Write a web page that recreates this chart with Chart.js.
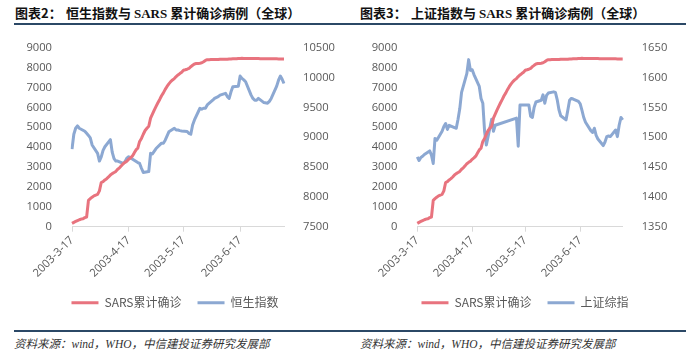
<!DOCTYPE html>
<html><head><meta charset="utf-8">
<script src="https://cdn.jsdelivr.net/npm/chart.js@4.4.1/dist/chart.umd.min.js"></script>
<style>
html,body{margin:0;padding:0;background:#fff;}
#wrap{position:relative;width:700px;height:359px;overflow:hidden;background:#fff;}
.t{position:absolute;top:5px;font-family:"Noto Sans CJK SC";font-weight:bold;font-size:13px;color:#111;white-space:nowrap;line-height:16px;}
.t .sa{font-family:"Liberation Serif";font-weight:bold;}
.rule{position:absolute;left:14px;width:672px;height:2px;background:#2b4866;}
.src{position:absolute;top:337px;font-style:italic;font-size:11.5px;color:#333;font-family:"Liberation Serif","Noto Sans CJK SC";white-space:nowrap;line-height:14px;}
canvas{position:absolute;top:0;}
</style></head>
<body><div id="wrap">
<div class="t" style="left:15px">图表2：</div>
<div class="t" style="left:66px">恒生指数与 <span class="sa">SARS</span> 累计确诊病例（全球）</div>
<div class="t" style="left:360px">图表3：</div>
<div class="t" style="left:411px">上证指数与 <span class="sa">SARS</span> 累计确诊病例（全球）</div>
<div class="rule" style="top:23px"></div>
<div class="rule" style="top:330px"></div>
<div class="src" style="left:14px">资料来源：wind，WHO，中信建投证券研究发展部</div>
<div class="src" style="left:360px">资料来源：wind，WHO，中信建投证券研究发展部</div>
<canvas id="c1" width="350" height="359" style="left:0"></canvas>
<canvas id="c2" width="350" height="359" style="left:350px"></canvas>
</div>
<script>
// ---- data ----
const firstDay = [2003, 2, 17]; // 2003-3-17 (Monday)
const dayCount = 117;           // through 2003-7-11
const dates = [];
for (let i = 0; i < dayCount; i++) {
  const d = new Date(Date.UTC(firstDay[0], firstDay[1], firstDay[2] + i));
  dates.push(d.getUTCFullYear() + '-' + (d.getUTCMonth() + 1) + '-' + d.getUTCDate());
}
const tickDates = ['2003-3-17', '2003-4-17', '2003-5-17', '2003-6-17'];
const sarsLabel = 'SARS累计确诊';
const hsiLabel = '恒生指数';
const shciLabel = '上证综指';

const sarsCases = [
  167,219,264,306,350,386,400,456,487,1323,1408,1485,1550,1590,1622,
  1804,2223,2270,2353,2416,2500,2601,2671,2722,2781,2890,2960,3060,3169,3235,3293,3389,3461,3547,3700,3861,3947,4288,4439,4649,4836,4950,5050,5462,5663,
  5865,6054,6234,6400,6583,6727,6903,7053,7183,7296,7380,7447,7548,7628,7699,7761,7864,7890,7919,7956,8046,8114,8178,8202,8210,8221,8240,8295,8359,8398,8400,
  8403,8404,8404,8404,8404,8421,8421,8421,8421,8421,8435,8435,8445,8445,8445,8460,8460,8464,8462,8461,8461,8461,8459,8458,8458,8458,8458,8450,8447,8447,
  8445,8445,8439,8439,8439,8439,8439,8437,8437,8437,8437
];
const _ = null;
// one row per week, Monday..Sunday
const hsiValues = [
  8800,9050,9150,9190,9150,_,_,
  9100,9065,9030,8990,8870,_,_,
  8730,8600,8670,8780,8840,_,_,
  8960,8750,8640,8600,8600,_,_,
  8560,8590,8650,8673,_,_,_,
  _,8575,8560,8480,8410,_,_,
  8425,8730,8720,_,8810,_,_,
  8900,8900,8950,_,9090,_,_,
  9150,9120,9120,9110,9105,_,_,
  9095,9065,9050,9205,9290,_,_,
  9485,9470,9485,9485,9540,_,_,
  9620,9650,_,9680,9705,_,_,
  9735,9680,9650,9760,9845,_,_,
  9855,10025,9985,9960,9930,_,_,
  9705,9650,9620,9620,9650,_,_,
  9580,_,9570,9600,9650,_,_,
  9855,9955,10025,9970,9900
];
const shciValues = [
  1467,1461,1466,1468,1471,_,_,
  1477,1470,1456,1498,1495,_,_,
  1510,1518,1523,1513,1520,_,_,
  1516,1515,1530,1548,1575,_,_,
  1607,1630,1612,1613,1605,_,_,
  1585,1565,1557,1510,1487,_,_,
  1530,1510,1520,_,_,_,_,
  _,_,_,_,_,_,_,
  1532,1485,1554,1554,1554,_,_,
  1554,1535,1533,1550,1559,_,_,
  1562,1571,1557,1570,1574,_,_,
  1576,1575,1563,1546,1536,_,_,
  1529,1545,1562,1565,1564,_,_,
  1560,1556,1545,1533,1525,_,_,
  1511,1508,1515,1503,1497,_,_,
  1486,1492,1501,1502,1501,_,_,
  1512,1501,1520,1533,1529
];
const leftTicks = {min: 0, max: 9000, step: 1000};
const hsiTicks = {min: 7500, max: 10500, step: 500};
const shciTicks = {min: 1350, max: 1650, step: 50};

// ---- chart ----
const RED = '#E8737E', BLUE = '#8CA8D2', TXT = '#595959';
const tickFont = {family: 'Open Sans', size: 11.2};
const plainNum = v => String(v);

function makeChart(id, stockLabel, stockValues, rightTicks, leftW, rightW) {
  return new Chart(document.getElementById(id), {
    type: 'line',
    data: {
      labels: dates,
      datasets: [
        {label: sarsLabel, data: sarsCases, yAxisID: 'y', borderColor: RED, backgroundColor: RED,
         borderWidth: 3, pointRadius: 0, tension: 0, spanGaps: true, borderJoinStyle: 'round'},
        {label: stockLabel, data: stockValues, yAxisID: 'y2', borderColor: BLUE, backgroundColor: BLUE,
         borderWidth: 3, pointRadius: 0, tension: 0, spanGaps: true, borderJoinStyle: 'round'}
      ]
    },
    options: {
      responsive: false, animation: false, devicePixelRatio: 1,
      layout: {padding: {left: 0, right: 0, top: 47.7, bottom: 40.3}},
      plugins: {
        tooltip: {enabled: false},
        legend: {
          position: 'bottom', align: 'center',
          labels: {usePointStyle: true, pointStyle: 'line', pointStyleWidth: 27, padding: 16,
                   color: TXT, font: {family: 'Noto Sans CJK SC', size: 12}}
        }
      },
      scales: {
        x: {
          type: 'category', offset: false,
          afterBuildTicks: s => { s.ticks = s.ticks.filter(t => tickDates.includes(dates[t.value])); },
          afterFit: s => { s.height = 54; },
          ticks: {autoSkip: false, minRotation: 45, maxRotation: 45, color: TXT, font: tickFont, padding: 2},
          grid: {display: true, drawOnChartArea: false, drawTicks: true, tickLength: 5, color: '#d9d9d9'},
          border: {display: true, color: '#d9d9d9', width: 1}
        },
        y: {
          position: 'left', min: leftTicks.min, max: leftTicks.max,
          afterFit: s => { s.width = leftW; },
          ticks: {stepSize: leftTicks.step, color: TXT, font: tickFont, padding: 12, callback: plainNum},
          grid: {display: false}, border: {display: false}
        },
        y2: {
          position: 'right', min: rightTicks.min, max: rightTicks.max,
          afterFit: s => { s.width = rightW; },
          ticks: {stepSize: rightTicks.step, color: TXT, font: tickFont, padding: 11, callback: plainNum},
          grid: {display: false}, border: {display: false}
        }
      }
    }
  });
}
makeChart('c1', hsiLabel, hsiValues, hsiTicks, 72, 66);
makeChart('c2', shciLabel, shciValues, shciTicks, 67.3, 77.3);
</script>
</body></html>
